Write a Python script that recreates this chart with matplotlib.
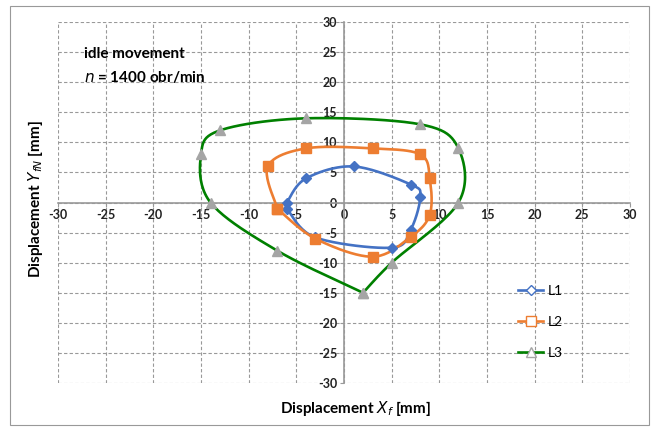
"""Displacement loci at idle, Excel-style smoothed scatter."""

import matplotlib
matplotlib.use("Agg")
import matplotlib.pyplot as plt
from matplotlib.lines import Line2D
from matplotlib.patches import Rectangle
import numpy as np

plt.rcParams["font.family"] = ["Lato", "DejaVu Sans"]

# series (mm)
l1_x = [-6, -4, 1, 7, 8, 7, 5, -3, -6]
l1_y = [0, 4, 6, 3, 1, -4.5, -7.5, -5.8, -1]
l2_x = [-7, -8, -4, 3, 8, 9, 9, 7, 3, -3, -7]
l2_y = [-1, 6, 9, 9, 8, 4, -2, -5.7, -9, -6, -1]
l3_x = [2, -7, -14, -15, -13, -4, 8, 12, 12, 5, 2]
l3_y = [-15, -8, 0, 8, 12, 14, 13, 9, 0, -10, -15]
ticks = np.arange(-30, 31, 5)

BLUE = "#4472C4"
ORANGE = "#ED7D31"
GREEN = "#008000"
GRAY = "#A5A5A5"


def smooth(xs, ys, steps=24):
    """Bezier smoothing like Excel's smoothed lines."""
    pts = np.column_stack([xs, ys]).astype(float)
    n = len(pts)
    t = np.linspace(0, 1, steps)[:, None]
    out = [pts[:1]]
    for i in range(n - 1):
        p0 = pts[max(i - 1, 0)]
        p1 = pts[i]
        p2 = pts[i + 1]
        p3 = pts[min(i + 2, n - 1)]
        c1 = p1 + (p2 - p0) / 6
        c2 = p2 - (p3 - p1) / 6
        seg = ((1 - t) ** 3 * p1 + 3 * (1 - t) ** 2 * t * c1
               + 3 * (1 - t) * t ** 2 * c2 + t ** 3 * p2)
        out.append(seg[1:])
    curve = np.vstack(out)
    return curve[:, 0], curve[:, 1]


def main():
    fig = plt.figure(figsize=(6.54, 4.28), dpi=100)
    fig.patches.append(Rectangle((0.015, 0.008), 0.978, 0.978,
                                 transform=fig.transFigure, fill=False,
                                 edgecolor="#999999", linewidth=0.8))
    ax = fig.add_axes([0.0887, 0.105, 0.8746, 0.8435])
    ax.set_xlim(-30, 30)
    ax.set_ylim(-30, 30)
    ax.set_xticks(ticks)
    ax.set_yticks(ticks)
    ax.set_xticklabels([str(v) for v in ticks])
    ax.set_yticklabels([str(v) for v in ticks])
    ax.grid(True, color="#999999", linestyle=(0, (3, 2)), linewidth=0.8)
    ax.set_axisbelow(True)

    for side in ("top", "right"):
        ax.spines[side].set_visible(False)
    for side in ("left", "bottom"):
        ax.spines[side].set_position(("data", 0))
        ax.spines[side].set_color("#999999")
        ax.spines[side].set_linewidth(1.2)
    ax.tick_params(length=3, width=0.8, color="#999999", labelsize=9,
                   direction="out", pad=2)
    for lab in ax.get_xticklabels() + ax.get_yticklabels():
        lab.set_fontweight("bold")
        lab.set_color("#222222")

    series = [
        (l1_x, l1_y, BLUE, "D", 5, BLUE, "L1"),
        (l2_x, l2_y, ORANGE, "s", 7, ORANGE, "L2"),
        (l3_x, l3_y, GREEN, "^", 7, GRAY, "L3"),
    ]
    handles = []
    for xs, ys, color, marker, msize, mcolor, name in series:
        sx, sy = smooth(xs, ys)
        ax.plot(sx, sy, color=color, linewidth=1.9, zorder=3)
        ax.plot(xs, ys, linestyle="none", marker=marker, markersize=msize,
                color=mcolor, markeredgecolor=mcolor, zorder=4)
        handles.append(Line2D([], [], color=color, linewidth=1.9,
                              marker=marker, markersize=msize,
                              markerfacecolor="white", markeredgecolor=mcolor,
                              label=name))

    ax.legend(handles=handles, loc="center left",
              bbox_to_anchor=(0.795, 0.169), frameon=False, fontsize=10,
              handlelength=1.8, handletextpad=0.3, labelspacing=1.35,
              borderaxespad=0)

    ax.text(-27.3, 24.0, "idle movement", fontsize=11, fontweight="bold")
    ax.text(-27.3, 20.0, r"$\mathbf{\mathit{n}}$ = 1400 obr/min",
            fontsize=11, fontweight="bold")

    fig.text(0.543, 0.045, r"Displacement $\mathit{X_f}$ [mm]", ha="center",
             va="center", fontsize=11, fontweight="bold")
    fig.text(0.055, 0.535, r"Displacement $\mathit{Y_{fN}}$ [mm]",
             ha="center", va="center", rotation=90, fontsize=11,
             fontweight="bold")

    fig.savefig("out.png", dpi=100)


if __name__ == "__main__":
    main()
